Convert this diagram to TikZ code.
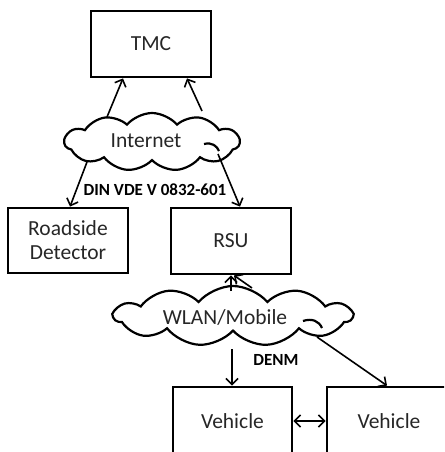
\documentclass[tikz,border=0pt]{standalone}
\usepackage{fontspec}
\setmainfont{Carlito}
\usetikzlibrary{shapes.symbols,arrows.meta}
\begin{document}
\begin{tikzpicture}[x=1pt,y=-1pt,
  box/.style={draw,line width=2.8pt,inner sep=0pt,font=\fontsize{21.5}{24}\selectfont,text=black!85,align=center},
  cloudy/.style={cloud,draw,line width=2.2pt,cloud puffs=11,cloud puff arc=100,inner sep=0pt},
  curl/.style={line width=2.2pt},
  lbl/.style={font=\fontsize{21.5}{24}\selectfont,text=black!85},
  conn/.style={line width=1.6pt,-{Straight Barb[length=6pt,width=12pt,line width=1.6pt]}},
  both/.style={line width=1.6pt,{Straight Barb[length=6pt,width=12pt,line width=1.6pt]}-{Straight Barb[length=6pt,width=12pt,line width=1.6pt]}},
  small/.style={font=\bfseries\fontsize{17}{20}\selectfont}]
\useasboundingbox (0,0) rectangle (444,452);
\clip (0,0) rectangle (444,452);
\node[box,minimum width=120pt,minimum height=66pt] (tmc) at (151,44) {TMC};
\node[box,minimum width=120pt,minimum height=65pt] (rd) at (68,240.5) {Roadside\\Detector};
\node[box,minimum width=120pt,minimum height=66pt] (rsu) at (231,241) {RSU};
\node[box,minimum width=119pt,minimum height=68pt] (v1) at (232.5,421) {Vehicle};
\node[box,minimum width=124pt,minimum height=68pt] (v2) at (389,421) {Vehicle};
\node[cloudy,minimum width=175pt,minimum height=58pt] (inet) at (152,142) {};
\node[lbl] (inett) at (146,141) {Internet};
\draw[curl] (204,144) .. controls (212,142) and (217,146) .. (219,151);
\node[cloudy,minimum width=238pt,minimum height=60pt] (wlan) at (233,316) {};
\node[lbl] (wlant) at (225,317) {WLAN/Mobile};
\draw[curl] (303,321) .. controls (312,318) and (319,321) .. (322,328);
\coordinate (i1) at (107,117);
\coordinate (i2) at (202,111);
\coordinate (i3) at (87,162);
\coordinate (i4) at (218,154);
\coordinate (w1) at (231,291);
\coordinate (w2) at (252,288);
\coordinate (w3) at (232,349);
\coordinate (w4) at (317,337);
\draw[conn] (i1) -- (tmc.south -| 123,0);
\draw[conn] (i2) -- (tmc.south -| 187,0);
\draw[conn] (i3) -- (rd.north -| 70,0);
\draw[conn] (i4) -- (rsu.north -| 240,0);
\draw[conn] (w1) -- (rsu.south -| 231,0);
\draw[conn] (w2) -- ([xshift=3pt]rsu.south);
\draw[conn] (w3) -- (v1.north -| 232,0);
\draw[conn] (w4) -- (v2.north -| 387,0);
\draw[both] (v1.east) -- (v2.west);
\node[small] (din) at (155,190) {DIN VDE V 0832-601};
\node[small] (denm) at (276,360) {DENM};
\end{tikzpicture}
\end{document}
